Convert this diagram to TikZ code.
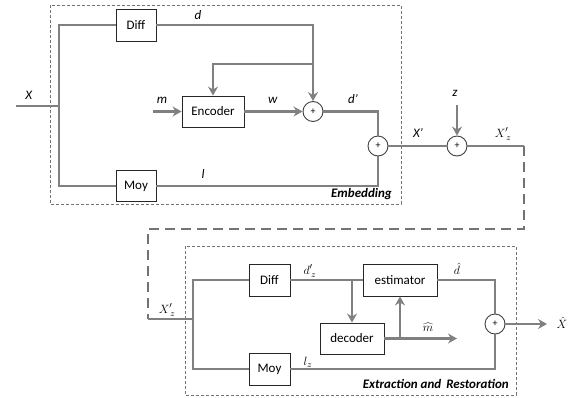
\documentclass[tikz,border=0pt]{standalone}
\usepackage{fontspec}
\setmainfont{Carlito}
\usetikzlibrary{arrows.meta}

\begin{document}
\begin{tikzpicture}
  [x=1pt,y=-1pt,font=\fontsize{13}{15}\selectfont,
   blk/.style={draw=black!85,line width=0.9pt,fill=white,inner sep=0pt,minimum height=32pt},
   sum/.style={circle,draw=black!75,line width=0.9pt,fill=white,inner sep=0pt,minimum size=20pt,font=\fontsize{10}{10}\selectfont},
   wire/.style={draw=black!50,line width=2.2pt},
   tip/.style={-{Stealth[length=9pt,width=10pt,inset=3pt]}},
   frame/.style={draw=black!55,line width=0.8pt,dash pattern=on 3pt off 2pt},
   longdash/.style={draw=black!55,line width=2pt,dash pattern=on 10pt off 6pt},
   lbl/.style={inner sep=0pt},
   title/.style={inner sep=0pt,font=\fontsize{13}{15}\selectfont\bfseries\itshape}]
  \useasboundingbox (0,0) rectangle (568,397);

  % embedding part
  \draw[frame] (50,5) rectangle (401,204);
  \node[title,anchor=east] (emb) at (392,194) {Embedding};

  \node[blk,minimum width=40pt] (diff) at (136,25) {Diff};
  \node[blk,minimum width=62pt,minimum height=31pt] (enc) at (213,111.5) {Encoder};
  \node[blk,minimum width=40pt,minimum height=31pt] (moy) at (136,186) {Moy};
  \node[sum] (p1) at (313,111.5) {+};
  \node[sum] (p2) at (378,146) {+};
  \node[sum] (p3) at (457,146) {+};

  \coordinate (xin) at (16,106);
  \coordinate (j1) at (59,106);
  \coordinate (fb) at (313,64);
  \coordinate (min) at (153,111.5);
  \coordinate (zin) at (457,105);
  \coordinate (c1) at (524,146);

  \node[lbl] (lx) at (29,95) {\textit{X}};
  \node[lbl] (ld) at (198,15) {\textit{d}};
  \node[lbl] (lm) at (162,100) {\textit{m}};
  \node[lbl] (lw) at (273,100) {\textit{w}};
  \node[lbl] (ll) at (203,174) {\textit{l}};
  \node[lbl] (ldp) at (353,99) {\textit{d'}};
  \node[lbl] (lxp) at (418,133) {\textit{X'}};
  \node[lbl] (lz) at (455,93) {\textit{z}};
  \node[lbl] (lxz) at (503,134) {$X'_{\,z}$};

  \draw[wire] (xin) -- (j1);
  \draw[wire] (diff.west) -| (j1) |- (moy.west);
  \draw[wire,tip] (diff.east) -| (p1);
  \draw[wire,tip] (fb) -| (enc.north);
  \draw[wire,tip] (min) -- (enc.west);
  \draw[wire,tip] (enc.east) -- (p1.west);
  \draw[wire] (p1) -| (p2);
  \draw[wire] (moy.east) -| (p2);
  \draw[wire] (p2) -- (p3);
  \draw[wire,tip] (zin) -- (p3);
  \draw[wire] (p3) -- (c1);

  % link between the two parts
  \coordinate (c3) at (148,229);
  \coordinate (c4) at (148,319);
  \coordinate (j2) at (193,319);
  \draw[longdash] (c1) |- (c3) -- (c4);

  % extraction part
  \draw[frame] (185,246) rectangle (516,395);
  \node[title,anchor=east] (ext) at (509,384) {Extraction and\, Restoration};

  \node[blk,minimum width=41pt] (diff2) at (269.5,280) {Diff};
  \node[blk,minimum width=74pt] (est) at (400,280) {estimator};
  \node[blk,minimum width=64pt,minimum height=31pt] (dec) at (352,338.5) {decoder};
  \node[blk,minimum width=41pt] (moy2) at (269.5,369) {Moy};
  \node[sum] (p4) at (495,324) {+};

  \coordinate (b1) at (352,280);
  \coordinate (b2) at (400,338.5);
  \coordinate (mout) at (457,338.5);
  \coordinate (xout) at (547,324);

  \node[lbl] (lxz2) at (167,310) {$X'_{\,z}$};
  \node[lbl] (ldz) at (310,271) {$d'_{\,z}$};
  \node[lbl] (lmh) at (428,327) {$\widehat{m}$};
  \node[lbl] (ldh) at (457,269) {$\hat{d}$};
  \node[lbl] (llz) at (308,362) {$l_z$};
  \node[lbl] (lxh) at (562,323) {$\hat{X}$};

  \draw[wire] (c4) -- (j2);
  \draw[wire] (diff2.west) -| (j2) |- (moy2.west);
  \draw[wire] (diff2.east) -- (est.west);
  \draw[wire,tip] (b1) -- (dec.north);
  \draw[wire,tip] (dec.east) -- (mout);
  \draw[wire,tip] (b2) -- (est.south);
  \draw[wire] (est.east) -| (p4);
  \draw[wire] (moy2.east) -| (p4);
  \draw[wire,tip] (p4) -- (xout);
\end{tikzpicture}
\end{document}
